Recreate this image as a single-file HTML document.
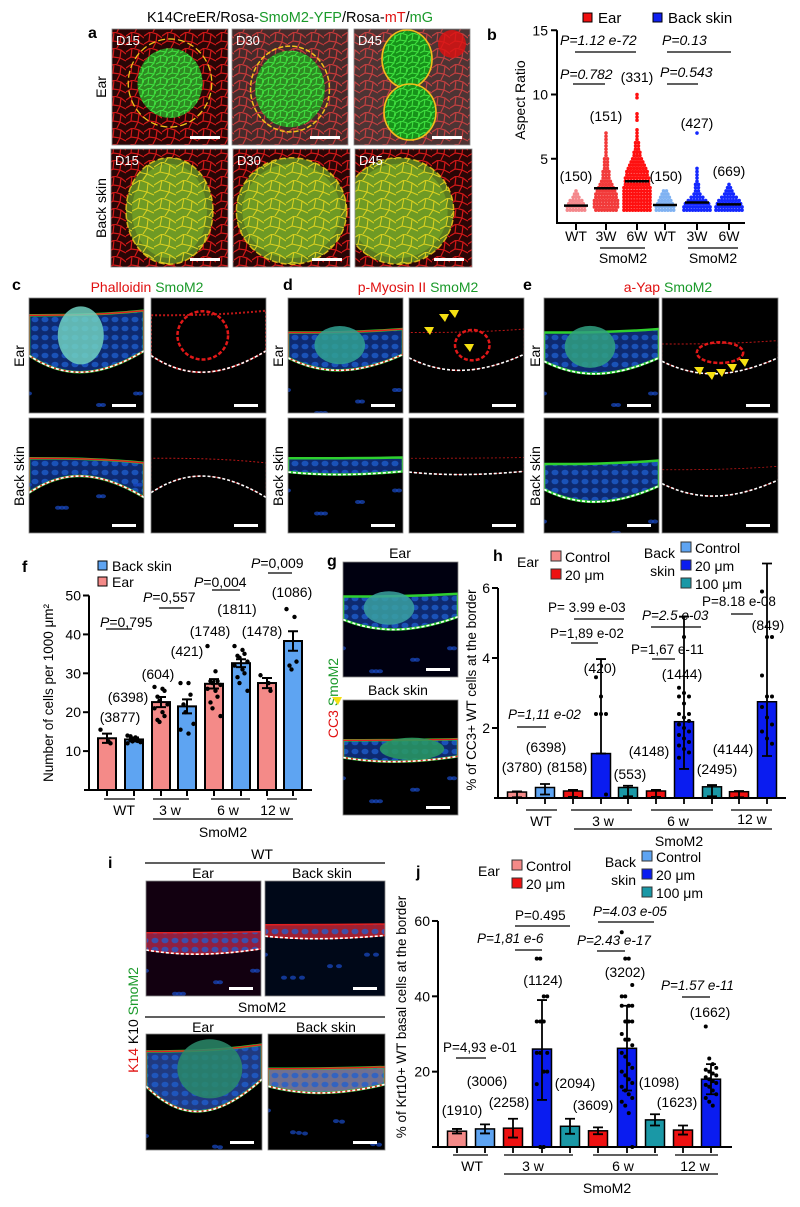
<!DOCTYPE html>
<html><head><meta charset="utf-8"><style>
html,body{margin:0;padding:0;background:#fff;}
svg{display:block;font-family:"Liberation Sans",Arial,sans-serif;}
</style></head><body>
<svg id="fig" width="800" height="1207" viewBox="0 0 800 1207" xmlns="http://www.w3.org/2000/svg">
<defs>
<pattern id="cellsR" width="18" height="16" patternUnits="userSpaceOnUse"><path d="M0 4 L6 0 L13 2 L18 6 M6 0 L5 9 L0 12 M5 9 L12 10 L13 2 M12 10 L18 13 M12 10 L9 16" stroke="#d01818" stroke-width="1.2" fill="none"/></pattern>
<pattern id="cellsG" width="12" height="11" patternUnits="userSpaceOnUse"><path d="M0 3 L5 0 L11 2 L12 6 M5 0 L4 7 L0 9 M4 7 L10 8 L11 2 M10 8 L7 11" stroke="#3fe03f" stroke-width="1.1" fill="none"/></pattern>
<pattern id="cellsY" width="22" height="18" patternUnits="userSpaceOnUse"><path d="M0 5 L8 0 L16 3 L22 7 M8 0 L6 10 L0 13 M6 10 L15 12 L16 3 M15 12 L22 15 M15 12 L11 18" stroke="#d8d020" stroke-width="1.1" fill="none"/></pattern>
<pattern id="nucB" width="10" height="9" patternUnits="userSpaceOnUse"><ellipse cx="5" cy="4.5" rx="3.5" ry="2.8" fill="#1e5fd0"/></pattern>
</defs>
<g id="texts" font-size="14">
<text x="88" y="38" font-weight="bold" font-size="16">a</text>
<text x="290" y="22" text-anchor="middle" font-size="14.5">K14CreER/Rosa-<tspan fill="#1a9a2a">SmoM2-YFP</tspan>/Rosa-<tspan fill="#e01010">mT</tspan>/<tspan fill="#1a9a2a">mG</tspan></text>
<text transform="translate(106,87) rotate(-90)" text-anchor="middle">Ear</text>
<text transform="translate(106,208) rotate(-90)" text-anchor="middle">Back skin</text>
<text x="487" y="40" font-weight="bold" font-size="16">b</text>
<text x="12" y="290" font-weight="bold" font-size="16">c</text>
<text x="147" y="292" text-anchor="middle"><tspan fill="#e01010">Phalloidin</tspan> <tspan fill="#1a9a2a">SmoM2</tspan></text>
<text x="283" y="290" font-weight="bold" font-size="16">d</text>
<text x="418" y="292" text-anchor="middle"><tspan fill="#e01010">p-Myosin II</tspan> <tspan fill="#1a9a2a">SmoM2</tspan></text>
<text x="523" y="290" font-weight="bold" font-size="16">e</text>
<text x="668" y="292" text-anchor="middle"><tspan fill="#e01010">a-Yap</tspan> <tspan fill="#1a9a2a">SmoM2</tspan></text>
<text transform="translate(24,356) rotate(-90)" text-anchor="middle">Ear</text>
<text transform="translate(24,476) rotate(-90)" text-anchor="middle">Back skin</text>
<text transform="translate(283,356) rotate(-90)" text-anchor="middle">Ear</text>
<text transform="translate(283,476) rotate(-90)" text-anchor="middle">Back skin</text>
<text transform="translate(540,356) rotate(-90)" text-anchor="middle">Ear</text>
<text transform="translate(540,476) rotate(-90)" text-anchor="middle">Back skin</text>
<text x="22" y="572" font-weight="bold" font-size="16">f</text>
<text x="327" y="566" font-weight="bold" font-size="16">g</text>
<text x="400" y="558" text-anchor="middle">Ear</text>
<text x="398" y="695" text-anchor="middle">Back skin</text>
<text transform="translate(338,698) rotate(-90)" text-anchor="middle"><tspan fill="#e01010">CC3</tspan> <tspan fill="#1a9a2a">SmoM2</tspan></text>
<text x="493" y="561" font-weight="bold" font-size="16">h</text>
<text x="108" y="868" font-weight="bold" font-size="16">i</text>
<text x="262" y="859" text-anchor="middle">WT</text>
<line x1="145" y1="863" x2="385" y2="863" stroke="#000" stroke-width="1.2"/>
<text x="203" y="878" text-anchor="middle">Ear</text>
<text x="322" y="878" text-anchor="middle">Back skin</text>
<text x="262" y="1012" text-anchor="middle">SmoM2</text>
<line x1="145" y1="1017" x2="385" y2="1017" stroke="#000" stroke-width="1.2"/>
<text x="203" y="1032" text-anchor="middle">Ear</text>
<text x="326" y="1032" text-anchor="middle">Back skin</text>
<text transform="translate(138,1020) rotate(-90)" text-anchor="middle"><tspan fill="#e01010">K14</tspan> K10 <tspan fill="#1a9a2a">SmoM2</tspan></text>
<text x="416" y="877" font-weight="bold" font-size="16">j</text>
</g>
<g id="imgs"></g>
<g id="chartB"></g>
<g id="chartF"></g>
<g id="chartH"></g>
<g id="chartJ"></g>
</svg>
<script>
var NS='http://www.w3.org/2000/svg';
function mk(parent,tag,attrs,txt){var e=document.createElementNS(NS,tag);for(var k in attrs)e.setAttribute(k,attrs[k]);if(txt!==undefined)e.textContent=txt;parent.appendChild(e);return e;}

/* ---------------- micrographs ---------------- */
var imgs=document.getElementById('imgs');
function micro(x,y,w,h,kind,name){
  var g=mk(imgs,'g',{});
  
  
  var cp='cp'+name;
  var c=mk(g,'clipPath',{id:cp});mk(c,'rect',{x:x,y:y,width:w,height:h});
  var gg=mk(g,'g',{'clip-path':'url(#'+cp+')'});
  var cx=x+w/2, cy=y+h/2;
  if(kind[0]==='a'){
    mk(gg,'rect',{x:x,y:y,width:w,height:h,fill:'#2a0606'});
    mk(gg,'rect',{x:x,y:y,width:w,height:h,fill:'url(#cellsR)'});
    if(kind==='aEar'){
      mk(gg,'ellipse',{cx:cx,cy:cy-4,rx:w*0.28,ry:h*0.3,fill:'#2e8a22'});
      mk(gg,'ellipse',{cx:cx,cy:cy-4,rx:w*0.28,ry:h*0.3,fill:'url(#cellsG)'});
      mk(gg,'ellipse',{cx:cx,cy:cy-4,rx:w*0.36,ry:h*0.38,fill:'none',stroke:'#f2c21a','stroke-width':1.3,'stroke-dasharray':'7 3'});
    } else if(kind==='aEar2'){
      mk(gg,'rect',{x:x,y:y,width:w,height:h,fill:'#9a9a9a',opacity:0.25});
      mk(gg,'ellipse',{cx:cx,cy:cy+2,rx:w*0.3,ry:h*0.33,fill:'#2e8a22'});
      mk(gg,'ellipse',{cx:cx,cy:cy+2,rx:w*0.3,ry:h*0.33,fill:'url(#cellsG)'});
      mk(gg,'ellipse',{cx:cx,cy:cy+2,rx:w*0.34,ry:h*0.37,fill:'none',stroke:'#f2c21a','stroke-width':1.5,'stroke-dasharray':'5 2'});
    } else if(kind==='aEar3'){
      mk(gg,'rect',{x:x,y:y,width:w,height:h,fill:'#a0a0a0',opacity:0.3});
      mk(gg,'circle',{cx:x+w-18,cy:y+15,r:14,fill:'#e01010',opacity:0.8});
      [[cx-5,y+30,24,28],[cx-2,y+h-33,25,27]].forEach(function(p){
        mk(gg,'ellipse',{cx:p[0],cy:p[1],rx:p[2],ry:p[3],fill:'#17921a'});
        mk(gg,'ellipse',{cx:p[0],cy:p[1],rx:p[2],ry:p[3],fill:'url(#cellsG)'});
        mk(gg,'ellipse',{cx:p[0],cy:p[1],rx:p[2]+1,ry:p[3]+1,fill:'none',stroke:'#f2c21a','stroke-width':1.6});
      });
    } else {
      var rx=kind==='aBack1'?w*0.32:w*0.42, ox=kind==='aBack3'?-15:0;
      mk(gg,'ellipse',{cx:cx+ox,cy:cy+3,rx:rx+6,ry:h*0.4+6,fill:'#5a7a20'});
      mk(gg,'ellipse',{cx:cx+ox,cy:cy+3,rx:rx,ry:h*0.4,fill:'#6f9a24'});
      mk(gg,'ellipse',{cx:cx+ox,cy:cy+3,rx:rx+6,ry:h*0.4+6,fill:'url(#cellsY)'});
      mk(gg,'ellipse',{cx:cx+ox,cy:cy+3,rx:rx+6,ry:h*0.4+6,fill:'none',stroke:'#e8c21a','stroke-width':1.5,'stroke-dasharray':'6 3',opacity:0.9});
    }
    mk(gg,'rect',{x:x+w-38,y:y+h-9,width:30,height:3,fill:'#fff'});
  } else {
    mk(gg,'rect',{x:x,y:y,width:w,height:h,fill:kind.bg||'#000'});
    var b=kind.band;
    var top=y+b[0]*h, th=b[1]*h, dip=b[2]*h;
    var dpath='M'+x+' '+(top+th)+' C'+(x+w*0.3)+' '+(top+th+dip)+' '+(x+w*0.6)+' '+(top+th+dip)+' '+(x+w)+' '+(top+th-dip*0.2);
    var tissue=dpath+' L'+(x+w)+' '+(top-dip*0.2)+' C'+(x+w*0.6)+' '+(top)+' '+(x+w*0.3)+' '+(top)+' '+x+' '+top+' Z';
    if(kind.merge){
      mk(gg,'path',{d:tissue,fill:kind.tcol||'#0e2a70'});
      mk(gg,'path',{d:tissue,fill:'url(#nucB)',opacity:0.75});
      if(kind.green) mk(gg,'path',{d:tissue,fill:'none',stroke:'#2fd02f','stroke-width':2.5});
      if(kind.red) mk(gg,'path',{d:tissue,fill:'none',stroke:'#e02020','stroke-width':1.5});
      if(kind.blob) mk(gg,'ellipse',{cx:x+w*kind.blob[0],cy:top+th*0.5,rx:w*kind.blob[1],ry:th*0.55+dip*0.3,fill:kind.blobCol||'#40b0a0',opacity:0.85});
      for(var i=0;i<8;i++) mk(gg,'ellipse',{cx:x+((i*37)%w),cy:top+th+dip+15+((i*23)%(h*0.3)),rx:3,ry:2,fill:'#1a4cc8',opacity:0.7});
    } else {
      mk(gg,'path',{d:tissue,fill:'none',stroke:kind.lcol||'#d01818','stroke-width':kind.lw||1,opacity:0.9,'stroke-dasharray':'2 2'});
      if(kind.blob) mk(gg,'ellipse',{cx:x+w*kind.blob[0],cy:top+th*0.5,rx:w*kind.blob[1],ry:th*0.6,fill:'none',stroke:'#e01818','stroke-width':2.5,'stroke-dasharray':'4 2'});
    }
    mk(gg,'path',{d:dpath,fill:'none',stroke:'#fff','stroke-width':1.6,'stroke-dasharray':'3 2'});
    mk(gg,'rect',{x:x+w-32,y:y+h-9,width:24,height:3,fill:'#fff'});
  }
  mk(g,'rect',{x:x,y:y,width:w,height:h,fill:'none',stroke:'#888','stroke-width':0.8});
}
micro(112,29,116,116,'aEar','img-a-ear-d15');
micro(232,29,116,116,'aEar2','img-a-ear-d30');
micro(354,29,116,116,'aEar3','img-a-ear-d45');
micro(111,149,117,118,'aBack1','img-a-back-d15');
micro(233,149,117,118,'aBack2','img-a-back-d30');
micro(355,149,117,118,'aBack3','img-a-back-d45');
var aLab=[['D15',116,45],['D30',236,45],['D45',358,45],['D15',115,165],['D30',237,165],['D45',359,165]];
aLab.forEach(function(l){var t=mk(imgs,'text',{x:l[1],y:l[2],fill:'#fff','font-size':13},l[0]);

});
micro(29,298,115,115,{merge:1,band:[0.15,0.35,0.2],green:1,red:1,blob:[0.45,0.2],blobCol:'#70d0c0'},'img-c-ear-merge');
micro(151,298,115,115,{band:[0.15,0.35,0.2],lw:2,blob:[0.45,0.22]},'img-c-ear-phalloidin');
micro(29,418,115,115,{merge:1,band:[0.35,0.3,-0.2],green:1,red:1},'img-c-back-merge');
micro(151,418,115,115,{band:[0.35,0.3,-0.2],lw:1},'img-c-back-phalloidin');
micro(288,298,115,115,{merge:1,band:[0.3,0.22,0.15],green:1,red:1,blob:[0.45,0.22],blobCol:'#30a090'},'img-d-ear-merge');
micro(409,298,115,115,{band:[0.3,0.22,0.15],lw:1,blob:[0.55,0.15]},'img-d-ear-pmyosin');
micro(288,418,115,115,{merge:1,band:[0.35,0.12,0.03],green:1},'img-d-back-merge');
micro(409,418,115,115,{band:[0.35,0.12,0.03],lw:0.8},'img-d-back-pmyosin');
micro(544,298,115,115,{merge:1,band:[0.3,0.25,0.15],green:1,blob:[0.4,0.22],blobCol:'#30a080'},'img-e-ear-merge');
micro(662,298,116,115,{band:[0.4,0.15,0.15],lw:1,blob:[0.5,0.2]},'img-e-ear-ayap');
micro(544,418,115,115,{merge:1,band:[0.4,0.22,0.15],green:1},'img-e-back-merge');
micro(662,418,116,115,{band:[0.45,0.12,0.15],lw:0.8},'img-e-back-ayap');
micro(343,562,115,115,{merge:1,bg:'#000010',band:[0.3,0.2,0.12],green:1,blob:[0.4,0.22],blobCol:'#3aa0a0'},'img-g-ear');
micro(343,700,115,115,{merge:1,band:[0.35,0.15,0.05],green:1,red:1,blob:[0.6,0.28],blobCol:'#2a9a60'},'img-g-back');
micro(146,881,115,115,{merge:1,bg:'#120010',band:[0.45,0.15,0.05],red:1,tcol:'#902040'},'img-i-wt-ear');
micro(265,881,120,115,{merge:1,bg:'#000818',band:[0.38,0.1,0.03],red:1,tcol:'#a02030'},'img-i-wt-back');
micro(146,1034,116,116,{merge:1,band:[0.15,0.3,0.3],green:1,red:1,blob:[0.55,0.28],blobCol:'#2a8a6a',tcol:'#203a80'},'img-i-smom2-ear');
micro(268,1034,117,116,{merge:1,band:[0.3,0.15,0.08],green:1,red:1,tcol:'#707090'},'img-i-smom2-back');
[[430,335],[445,322],[455,318],[470,352],[700,375],[712,380],[722,377],[733,372],[745,367],[338,705]].forEach(function(p){
  var a=mk(imgs,'path',{d:'M'+p[0]+' '+p[1]+' l-6 -8 l10 0 z',fill:'#f5e012'});
  
  
});

/* ---------------- chart b: aspect ratio ---------------- */
var bCats=['WT','3W','6W','WT','3W','6W'];
var bMedian=[1.35,2.7,3.25,1.4,1.6,1.45];
var bCounts=['(150)','(151)','(331)','(150)','(427)','(669)'];
var bBinStart=1.0, bBinStep=0.25;
var bHist0=[7,7,6,5,3,2,1];
var bHist1=[8,9,9,9,8,8,7,6,5,4,3,3,3,2,2,2,2,1,1,1,1,1,1,1,1];
var bHist2=[10,10,10,10,10,10,10,10,9,9,9,8,8,7,6,5,4,3,3,2,2,2,1,1,1,1,0,0,1,1,1,0,0,0,0,1,1];
var bHist3=[7,7,6,5,4,3,2];
var bHist4=[10,10,9,7,5,3,2,2,2,1,1,1,1,1,0,0,0,0,0,0,0,0,0,0,1];
var bHist5=[10,10,9,8,6,4,3,2,1];
var bTicks=[5,10,15];
(function(){
  var G=document.getElementById('chartB');
  var X0=557,Y0=223,YS=12.85;
  var cx=[576,606,637,665,697,729];
  function y(v){return Y0-v*YS;}
  var cols=['#f4888c','#f23a3a','#ff1010','#80b2f2','#1428ff','#1428ff'];
  var hists=[bHist0,bHist1,bHist2,bHist3,bHist4,bHist5];
  var ax=mk(G,'path',{d:'M'+X0+' '+y(15)+' V'+Y0+' H745',stroke:'#000','stroke-width':2,fill:'none'});
  
  
  bTicks.forEach(function(t){
    mk(G,'line',{x1:X0-6,x2:X0,y1:y(t),y2:y(t),stroke:'#000','stroke-width':2});
    var tl=mk(G,'text',{x:X0-9,y:y(t)+5,'text-anchor':'end','font-size':14},t);
    
    
  });
  var yl=mk(G,'text',{transform:'translate(525,100) rotate(-90)','text-anchor':'middle','font-size':14},'Aspect Ratio');
  
  
  hists.forEach(function(h,i){
    h.forEach(function(n,k){
      var yy=y(bBinStart+k*bBinStep);
      for(var j=0;j<n;j++){
        var d=mk(G,'circle',{cx:cx[i]+(j-(n-1)/2)*2.9,cy:yy,r:1.8,fill:cols[i]});
        
        
      }
    });
    var m=mk(G,'line',{x1:cx[i]-12,x2:cx[i]+12,y1:y(bMedian[i]),y2:y(bMedian[i]),stroke:'#000','stroke-width':2.5});
    
    
    mk(G,'line',{x1:cx[i],x2:cx[i],y1:Y0,y2:Y0+7,stroke:'#000','stroke-width':2});
    var cl=mk(G,'text',{x:cx[i],y:241,'text-anchor':'middle','font-size':14},bCats[i]);
    
    
  });
  var cpos=[[576,181],[606,121],[637,82],[666,181],[697,128],[729,176]];
  bCounts.forEach(function(c,i){var t=mk(G,'text',{x:cpos[i][0],y:cpos[i][1],'text-anchor':'middle','font-size':14},c);
    
    });
  [[600,645],[688,738]].forEach(function(s){mk(G,'line',{x1:s[0],x2:s[1],y1:248,y2:248,stroke:'#000','stroke-width':1.2});});
  [623,713].forEach(function(px){var t=mk(G,'text',{x:px,y:263,'text-anchor':'middle','font-size':14},'SmoM2');
    
    });
  var pv=[['P=1.12  e-72',560,45,575,636,52],['P=0.13',662,45,667,731,52],['P=0.782',560,79,573,605,84],['P=0.543',660,77,667,698,84]];
  pv.forEach(function(p){var t=mk(G,'text',{x:p[1],y:p[2],'font-size':14,'font-style':'italic'},p[0]);
    
    
    mk(G,'line',{x1:p[3],x2:p[4],y1:p[5],y2:p[5],stroke:'#000','stroke-width':1.2});});
  var l1=mk(G,'rect',{x:583,y:13,width:9,height:9,fill:'#f01010',stroke:'#000','stroke-width':1});
  
  
  var t1=mk(G,'text',{x:598,y:23,'font-size':15},'Ear');
  
  
  var l2=mk(G,'rect',{x:653,y:13,width:9,height:9,fill:'#1020f0',stroke:'#000','stroke-width':1});
  
  
  var t2=mk(G,'text',{x:668,y:23,'font-size':15},'Back skin');
  
  
})();

/* ---------------- chart f ---------------- */
var fGroups=['WT','3 w','6 w','12 w'];
var fMeans=[13.3,13.0,22.6,21.5,27.3,32.6,27.5,38.3];
var fSem=[1.2,0.5,1.3,1.8,1.2,1.0,1.3,2.5];
var fCounts=['(3877)','(6398)','(604)','(421)','(1748)','(1811)','(1478)','(1086)'];
var fDots0=[15.5,12.5,12];
var fDots1=[14,13.5,13,12.8,12.5,12.3,12,13.2,12.6,13.8];
var fDots2=[26.5,26,25.5,24,23,22,21,20,19,18,17.5];
var fDots3=[27.5,27.5,24.5,22,20,17,15.5,14.5];
var fDots4=[37,30.5,28,28,27.5,27,26,25.5,24,22.5,21,19];
var fDots5=[37,36,35,34.5,34,33,32,31,30,29,27.5,25.5];
var fDots6=[29.5,27.5,25.5];
var fDots7=[46.5,44.5,33,32,31];
var fTicks=[10,20,30,40,50];
(function(){
  var G=document.getElementById('chartF');
  var X0=89,Y0=790,YS=3.89;
  function y(v){return Y0-v*YS;}
  var cx=[107,134,161,187,214,241,267,293];
  var dots=[fDots0,fDots1,fDots2,fDots3,fDots4,fDots5,fDots6,fDots7];
  fMeans.forEach(function(m,i){
    var col=i%2===0?'#f48a88':'#5ea4f2';
    var r=mk(G,'rect',{x:cx[i]-9,y:y(m),width:18,height:Y0-y(m),fill:col,stroke:'#000','stroke-width':2});
    
    
    dots[i].forEach(function(v,k){
      var d=mk(G,'circle',{cx:cx[i]+((k%3)-1)*5+((k%2)?1.5:-1.5),cy:y(v),r:2.2,fill:'#000'});
      
      
    });
    var e=mk(G,'path',{d:'M'+cx[i]+' '+y(m-fSem[i])+' V'+y(m+fSem[i])+' M'+(cx[i]-5)+' '+y(m+fSem[i])+' h10 M'+(cx[i]-5)+' '+y(m-fSem[i])+' h10',stroke:'#000','stroke-width':2,fill:'none'});
    
    
    mk(G,'line',{x1:cx[i],x2:cx[i],y1:Y0,y2:Y0+6,stroke:'#000','stroke-width':2});
  });
  var ax=mk(G,'path',{d:'M'+X0+' '+y(50)+' V'+Y0+' M84 '+Y0+' H312',stroke:'#000','stroke-width':2,fill:'none'});
  
  
  fTicks.forEach(function(t){
    mk(G,'line',{x1:X0-6,x2:X0,y1:y(t),y2:y(t),stroke:'#000','stroke-width':2});
    var tl=mk(G,'text',{x:X0-8,y:y(t)+5,'text-anchor':'end','font-size':14},t);
    
    
  });
  var yl=mk(G,'text',{transform:'translate(53,693) rotate(-90)','text-anchor':'middle','font-size':13.5},'Number of cells per 1000 μm²');
  
  
  var cpos=[[120,722],[128,702],[158,679],[187,656],[210,636],[237,614],[262,636],[292,597]];
  fCounts.forEach(function(c,i){var t=mk(G,'text',{x:cpos[i][0],y:cpos[i][1],'text-anchor':'middle','font-size':14},c);
    
    });
  var gl=[[104,135,124],[153,189,170],[211,250,228],[267,297,275]];
  gl.forEach(function(s,i){mk(G,'line',{x1:s[0],x2:s[1],y1:799,y2:799,stroke:'#000','stroke-width':1.2});
    var t=mk(G,'text',{x:s[2],y:815,'text-anchor':'middle','font-size':14},fGroups[i]);
    
    });
  mk(G,'line',{x1:153,x2:293,y1:819,y2:819,stroke:'#000','stroke-width':1.2});
  var sm=mk(G,'text',{x:223,y:837,'text-anchor':'middle','font-size':14},'SmoM2');
  
  
  var pv=[['0,795',100,627,106,132,629],['0,557',143,602,159,184,608],['0,004',127,587,212,240,590],['0,009',165,568,268,292,573]];
  pv.forEach(function(p,i){
    var px=[100,143,194,251][i];
    var t=mk(G,'text',{x:px,y:p[2],'font-size':14});
    
    
    mk(t,'tspan',{'font-style':'italic'},'P');mk(t,'tspan',{},'='+p[0]);
    mk(G,'line',{x1:p[3],x2:p[4],y1:p[5],y2:p[5],stroke:'#000','stroke-width':1.2});
  });
  var s1=mk(G,'rect',{x:98,y:561,width:9,height:9,fill:'#5ea4f2',stroke:'#000','stroke-width':1});
  
  
  var t1=mk(G,'text',{x:112,y:571,'font-size':14},'Back skin');
  
  
  var s2=mk(G,'rect',{x:98,y:577,width:9,height:9,fill:'#f48a88',stroke:'#000','stroke-width':1});
  
  
  var t2=mk(G,'text',{x:112,y:587,'font-size':14},'Ear');
  
  
})();

/* ---------------- shared legend for h / j ---------------- */
function legendHJ(G,ox,oy,pfx){
  var t=mk(G,'text',{x:ox,y:oy+8,'font-size':14},'Ear');
  
  
  var items=[[ox+34,oy-8,'#f48a88','Control'],[ox+34,oy+10,'#ee1111','20 μm'],[ox+164,oy-17,'#5ea4f2','Control'],[ox+164,oy+1,'#0a1cf0','20 μm'],[ox+164,oy+19,'#1a98a6','100 μm']];
  items.forEach(function(it){
    var s=mk(G,'rect',{x:it[0],y:it[1],width:10,height:10,fill:it[2],stroke:'#333','stroke-width':1});
    
    
    var tt=mk(G,'text',{x:it[0]+14,y:it[1]+11,'font-size':14},it[3]);
    
    
  });
  var b1=mk(G,'text',{x:ox+158,y:oy-1,'font-size':14,'text-anchor':'end'},'Back');
  
  
  var b2=mk(G,'text',{x:ox+158,y:oy+17,'font-size':14,'text-anchor':'end'},'skin');
  
  
}
var hjColors=['#f48a88','#5ea4f2','#ee1111','#0a1cf0','#1a98a6','#ee1111','#0a1cf0','#1a98a6','#ee1111','#0a1cf0'];

/* ---------------- chart h ---------------- */
var hGroups=['WT','3 w','6 w','12 w'];
var hMeans=[0.17,0.3,0.2,1.27,0.3,0.2,2.18,0.32,0.18,2.75];
var hSdHi=[0.02,0.1,0.03,2.7,0.05,0.03,3.0,0.05,0.02,3.95];
var hSdLo=[0.15,0.2,0.17,0,0.25,0.17,1.35,0.27,0.16,1.55];
var hCounts=['(3780)','(6398)','(8158)','(420)','(553)','(4148)','(1444)','(2495)','(4144)','(849)'];
var hDots3=[3.45,2.9,2.4,2.4,2.4,0.1];
var hDots6=[3.15,3.0,2.9,2.9,2.7,2.4,2.4,2.3,2.2,2.1,2.0,1.9,1.8,1.7,1.6,1.5,1.4,1.3,1.15,4.6];
var hDots9=[5.9,4.6,4.6,3.5,2.9,2.9,2.6,2.3,2.1,1.9,1.7,1.55];
var hTicks=[2,4,6];
(function(){
  var G=document.getElementById('chartH');
  var X0=498,Y0=798,YS=35;
  function y(v){return Y0-v*YS;}
  var cx=[517,545,573,601,628,656,684,712,739,767];
  var dotSets={3:hDots3,6:hDots6,9:hDots9};
  hMeans.forEach(function(m,i){
    var r=mk(G,'rect',{x:cx[i]-9.5,y:y(m),width:19,height:Y0-y(m),fill:hjColors[i],stroke:'#000','stroke-width':1.5});
    
    
    var e=mk(G,'path',{d:'M'+cx[i]+' '+y(m-hSdLo[i])+' V'+y(m+hSdHi[i])+' M'+(cx[i]-5)+' '+y(m+hSdHi[i])+' h10 M'+(cx[i]-5)+' '+y(m-hSdLo[i])+' h10',stroke:'#000','stroke-width':1.8,fill:'none'});
    
    
    if(dotSets[i]) dotSets[i].forEach(function(v,k){
      var d=mk(G,'circle',{cx:cx[i]+((k%3)-1)*5,cy:y(v),r:2,fill:'#000'});
      
      
    });
    mk(G,'line',{x1:cx[i],x2:cx[i],y1:Y0,y2:Y0+6,stroke:'#000','stroke-width':1.8});
  });
  var ax=mk(G,'path',{d:'M'+X0+' '+y(6)+' V'+Y0+' M'+(X0-4)+' '+Y0+' H786',stroke:'#000','stroke-width':2,fill:'none'});
  
  
  hTicks.forEach(function(t){
    mk(G,'line',{x1:X0-6,x2:X0,y1:y(t),y2:y(t),stroke:'#000','stroke-width':2});
    var tl=mk(G,'text',{x:X0-8,y:y(t)+5,'text-anchor':'end','font-size':14},t);
    
    
  });
  var yl=mk(G,'text',{transform:'translate(476,690) rotate(-90)','text-anchor':'middle','font-size':13.5},'% of CC3+ WT cells at the border');
  
  
  var cpos=[[522,772],[546,752],[567,772],[600,673],[630,779],[649,756],[682,679],[717,774],[733,754],[768,630]];
  hCounts.forEach(function(c,i){var t=mk(G,'text',{x:cpos[i][0],y:cpos[i][1],'text-anchor':'middle','font-size':14},c);
    
    });
  var gl=[[526,557,541,826],[571,632,603,826],[651,713,678,826],[731,772,752,824]];
  gl.forEach(function(s,i){mk(G,'line',{x1:s[0],x2:s[1],y1:810,y2:810,stroke:'#000','stroke-width':1.2});
    var t=mk(G,'text',{x:s[2],y:s[3],'text-anchor':'middle','font-size':14},hGroups[i]);
    
    });
  mk(G,'line',{x1:574,x2:772,y1:829,y2:829,stroke:'#000','stroke-width':1.2});
  var sm=mk(G,'text',{x:679,y:846,'text-anchor':'middle','font-size':14},'SmoM2');
  
  
  var pv=[['P=1,11 e-02',508,719,517,546,727,1],['P= 3.99 e-03',548,612,574,624,619,0],['P=1,89 e-02',550,638,571,598,643,0],['P=2.5 e-03',642,620,651,701,627,1],['P=1,67 e-11',631,654,652,675,659,0],['P=8.18 e-08',702,606,731,753,614,0]];
  pv.forEach(function(p){var t=mk(G,'text',{x:p[1],y:p[2],'font-size':13.5,'font-style':p[6]?'italic':'normal'},p[0]);
    
    
    mk(G,'line',{x1:p[3],x2:p[4],y1:p[5],y2:p[5],stroke:'#000','stroke-width':1.2});});
  legendHJ(G,517,559,'h');
})();

/* ---------------- chart j ---------------- */
var jGroups=['WT','3 w','6 w','12 w'];
var jMeans=[4.2,4.8,5.0,26,5.5,4.3,26.2,7.2,4.5,18];
var jSdHi=[0.6,1.2,2.5,13,2,0.9,11.3,1.5,1.2,4];
var jSdLo=[0.6,1.2,2.5,13.5,2,0.9,11.2,1.5,1.2,4];
var jCounts=['(1910)','(3006)','(2258)','(1124)','(2094)','(3609)','(3202)','(1098)','(1623)','(1662)'];
var jDots3=[50,50,40,40,33.3,33.3,33.3,25,25,25,20,20,16.7,0,0];
var jDots6=[57,50,50,43,40,40,37.5,37.5,37.5,33.3,33.3,33.3,30,28.5,28.5,27,25,24,22,21,20,19,18,17,16,15,14,13,12,11,9,0];
var jDots9=[32,23.5,22,21,20.5,20,19.5,19,18.5,18,17.5,17,16.5,16,15,14,13,12,11];
var jTicks=[20,40,60];
(function(){
  var G=document.getElementById('chartJ');
  var X0=438,Y0=1147,YS=3.767;
  function y(v){return Y0-v*YS;}
  var cx=[457,485,513,542,570,598,627,655,683,711];
  var dotSets={3:jDots3,6:jDots6,9:jDots9};
  jMeans.forEach(function(m,i){
    var r=mk(G,'rect',{x:cx[i]-9.5,y:y(m),width:19,height:Y0-y(m),fill:hjColors[i],stroke:'#000','stroke-width':1.5});
    
    
    if(dotSets[i]) dotSets[i].forEach(function(v,k){
      var d=mk(G,'circle',{cx:cx[i]+((k%4)-1.5)*3.5,cy:y(v),r:2,fill:'#000'});
      
      
    });
    var e=mk(G,'path',{d:'M'+cx[i]+' '+y(m-jSdLo[i])+' V'+y(m+jSdHi[i])+' M'+(cx[i]-5)+' '+y(m+jSdHi[i])+' h10 M'+(cx[i]-5)+' '+y(m-jSdLo[i])+' h10',stroke:'#000','stroke-width':1.8,fill:'none'});
    
    
    mk(G,'line',{x1:cx[i],x2:cx[i],y1:Y0,y2:Y0+6,stroke:'#000','stroke-width':1.8});
  });
  var ax=mk(G,'path',{d:'M'+X0+' '+y(60)+' V'+Y0+' M'+(X0-6)+' '+Y0+' H732',stroke:'#000','stroke-width':2,fill:'none'});
  
  
  jTicks.forEach(function(t){
    mk(G,'line',{x1:X0-6,x2:X0,y1:y(t),y2:y(t),stroke:'#000','stroke-width':2});
    var tl=mk(G,'text',{x:X0-8,y:y(t)+5,'text-anchor':'end','font-size':14},t);
    
    
  });
  var yl=mk(G,'text',{transform:'translate(406,1017) rotate(-90)','text-anchor':'middle','font-size':13.5},'% of Krt10+ WT basal cells at the border');
  
  
  var cpos=[[462,1115],[487,1086],[509,1107],[543,985],[575,1088],[593,1110],[625,977],[659,1087],[677,1107],[710,1017]];
  jCounts.forEach(function(c,i){var t=mk(G,'text',{x:cpos[i][0],y:cpos[i][1],'text-anchor':'middle','font-size':14},c);
    
    });
  var gl=[[453,488,472],[504,573,533],[593,658,623],[675,718,695]];
  gl.forEach(function(s,i){mk(G,'line',{x1:s[0],x2:s[1],y1:1155,y2:1155,stroke:'#000','stroke-width':1.2});
    var t=mk(G,'text',{x:s[2],y:1171,'text-anchor':'middle','font-size':14},jGroups[i]);
    
    });
  mk(G,'line',{x1:504,x2:718,y1:1174,y2:1174,stroke:'#000','stroke-width':1.2});
  var sm=mk(G,'text',{x:607,y:1193,'text-anchor':'middle','font-size':14},'SmoM2');
  
  
  var pv=[['P=0.495',515,920,515,570,926,0],['P=1,81 e-6',477,943,515,542,950,1],['P=4.03 e-05',593,916,598,654,922,1],['P=2.43 e-17',577,945,597,625,951,1],['P=1.57 e-11',661,990,682,710,997,1],['P=4,93 e-01',443,1052,456,486,1058,0]];
  pv.forEach(function(p){var t=mk(G,'text',{x:p[1],y:p[2],'font-size':13.5,'font-style':p[6]?'italic':'normal'},p[0]);
    
    
    mk(G,'line',{x1:p[3],x2:p[4],y1:p[5],y2:p[5],stroke:'#000','stroke-width':1.2});});
  legendHJ(G,478,868,'j');
})();
</script>
</body></html>
